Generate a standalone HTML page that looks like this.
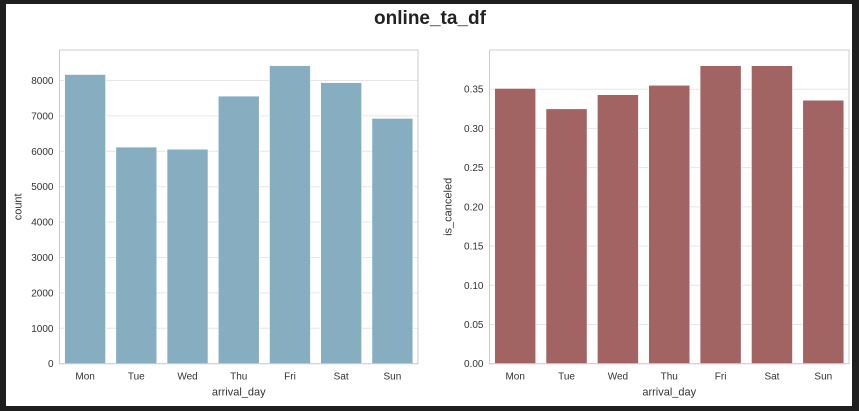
<!DOCTYPE html>
<html><head><meta charset="utf-8"><style>
body{margin:0;background:#1e1e1e;width:859px;height:411px;overflow:hidden}
svg{display:block;font-family:"Liberation Sans",sans-serif}
</style></head><body>
<svg id="c" width="859" height="411">
<rect x="6" y="4" width="846" height="402" fill="#fff"/>
<text x="430" y="24" text-anchor="middle" font-size="19" font-weight="bold" fill="#222">online_ta_df</text>
</svg>
<script>
const days=["Mon","Tue","Wed","Thu","Fri","Sat","Sun"];
const counts=[8170,6120,6060,7560,8420,7940,6930];
const cancelRates=[0.351,0.325,0.343,0.355,0.380,0.380,0.336];
const countTicks=[0,1000,2000,3000,4000,5000,6000,7000,8000];
const countTickLabels=["0","1000","2000","3000","4000","5000","6000","7000","8000"];
const rateTicks=[0,0.05,0.10,0.15,0.20,0.25,0.30,0.35];
const rateTickLabels=["0.00","0.05","0.10","0.15","0.20","0.25","0.30","0.35"];
const svg=document.getElementById('c');
const NS='http://www.w3.org/2000/svg';
function mk(tag,attrs,parent){const e=document.createElementNS(NS,tag);for(const k in attrs)e.setAttribute(k,attrs[k]);(parent||svg).appendChild(e);return e;}
function panel(id,L,R,T,B,ymax,vals,ticks,labels,color,ylabel){
  const g=mk('g',{});
  
  
  const y=v=>B-(v/ymax)*(B-T);
  const band=(R-L)/days.length;
  const x=i=>L+band*i;
  ticks.forEach((t,i)=>{
    const ln=mk('line',{x1:L,x2:R,y1:y(t),y2:y(t),stroke:'#e6e6e6','stroke-width':1},g);
    
    
    const tx=mk('text',{x:L-6,y:y(t)+3.5,'text-anchor':'end','font-size':10,fill:'#333'},g);
    tx.textContent=labels[i];
    
    
  });
  vals.forEach((v,i)=>{
    const r=mk('rect',{x:x(i)+band*0.1,y:y(v),width:band*0.8,height:B-y(v),fill:color,stroke:'#fff','stroke-width':0.6},g);
    
    
    const tx=mk('text',{x:x(i)+band/2,y:B+16,'text-anchor':'middle','font-size':10,fill:'#333'},g);
    tx.textContent=days[i];
    
    
  });
  const fr=mk('rect',{x:L,y:T,width:R-L,height:B-T,fill:'none',stroke:'#cccccc','stroke-width':1},g);
  
  
  const xl=mk('text',{x:(L+R)/2,y:B+32,'text-anchor':'middle','font-size':11,fill:'#333'},g);
  xl.textContent='arrival_day';
  
  
  const yl=mk('text',{x:0,y:0,'text-anchor':'middle','font-size':11,fill:'#333',transform:`translate(${L-38},${(T+B)/2}) rotate(-90)`},g);
  yl.textContent=ylabel;
  
  
}
panel('count',59.5,418,50,363.7,8862,counts,countTicks,countTickLabels,'#87adc0','count');
panel('canceled',489.5,849,50,363.7,0.400,cancelRates,rateTicks,rateTickLabels,'#a26363','is_canceled');
</script>
</body></html>
